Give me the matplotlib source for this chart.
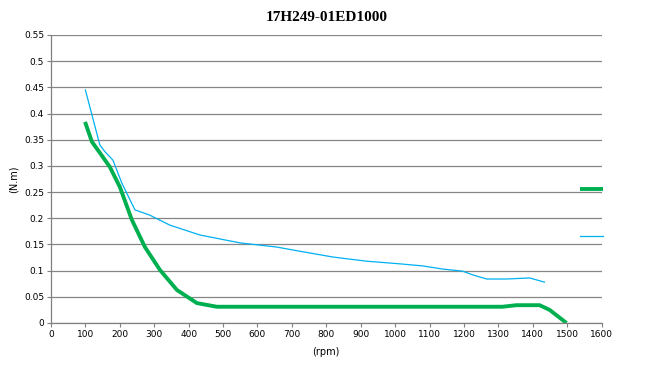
import matplotlib.pyplot as plt
from matplotlib.ticker import FixedLocator

# blue curve (thin)
rpm_blue = [100, 142, 157, 180, 206, 244, 287, 345, 433, 549, 656, 732, 819, 917,
            1013, 1080, 1138, 1196, 1225, 1266, 1324, 1391, 1434]
torque_blue = [0.445, 0.34, 0.327, 0.311, 0.267, 0.216, 0.206, 0.187, 0.168, 0.153, 0.145,
               0.136, 0.126, 0.118, 0.113, 0.109, 0.103, 0.099, 0.092, 0.084, 0.084, 0.086, 0.078]

# green curve (thick)
rpm_green = [99, 119, 142, 171, 200, 235, 273, 317, 366, 424, 482, 578, 800, 1000,
             1200, 1312, 1353, 1420, 1449, 1498]
torque_green = [0.384, 0.346, 0.325, 0.298, 0.26, 0.197, 0.145, 0.101, 0.063, 0.038, 0.031,
                0.031, 0.031, 0.031, 0.031, 0.031, 0.034, 0.034, 0.025, 0.0]

x_ticks = list(range(0, 1700, 100))
y_ticks = [0, 0.05, 0.1, 0.15, 0.2, 0.25, 0.3, 0.35, 0.4, 0.45, 0.5, 0.55]
y_labels = ["0", "0.05", "0.1", "0.15", "0.2", "0.25", "0.3", "0.35", "0.4", "0.45", "0.5", "0.55"]

fig = plt.figure(figsize=(6.47, 3.75), dpi=100)
ax = fig.add_axes([0.0788, 0.1387, 0.851, 0.768])

green_line, = ax.plot(rpm_green, torque_green, color="#00B050", lw=2.8, solid_capstyle="butt")
blue_line, = ax.plot(rpm_blue, torque_blue, color="#00B0F0", lw=0.9)

ax.set_xlim(0, 1600)
ax.set_ylim(0, 0.55)
ax.xaxis.set_major_locator(FixedLocator(x_ticks))
ax.set_yticks(y_ticks)
ax.set_yticklabels(y_labels)
ax.tick_params(labelsize=6.5, length=3, color="#808080", width=0.8, pad=2)
ax.grid(axis="y", color="#868686", lw=0.9)
ax.set_axisbelow(True)
for side in ["top", "right"]:
    ax.spines[side].set_visible(False)
for side in ["left", "bottom"]:
    ax.spines[side].set_color("#808080")
    ax.spines[side].set_linewidth(0.9)

ax.set_title("17H249-01ED1000", fontsize=11, fontweight="bold", family="Liberation Serif", pad=10)
ax.set_xlabel("(rpm)", fontsize=7, labelpad=6)
ax.set_ylabel("(N.m)", fontsize=7, labelpad=4)

fig.legend([green_line, blue_line], [" ", " "], loc="upper left",
           bbox_to_anchor=(0.883, 0.532), frameon=False, fontsize=7,
           handlelength=2.4, labelspacing=3.8, handletextpad=0.2)

fig.savefig("out.png", dpi=100)
